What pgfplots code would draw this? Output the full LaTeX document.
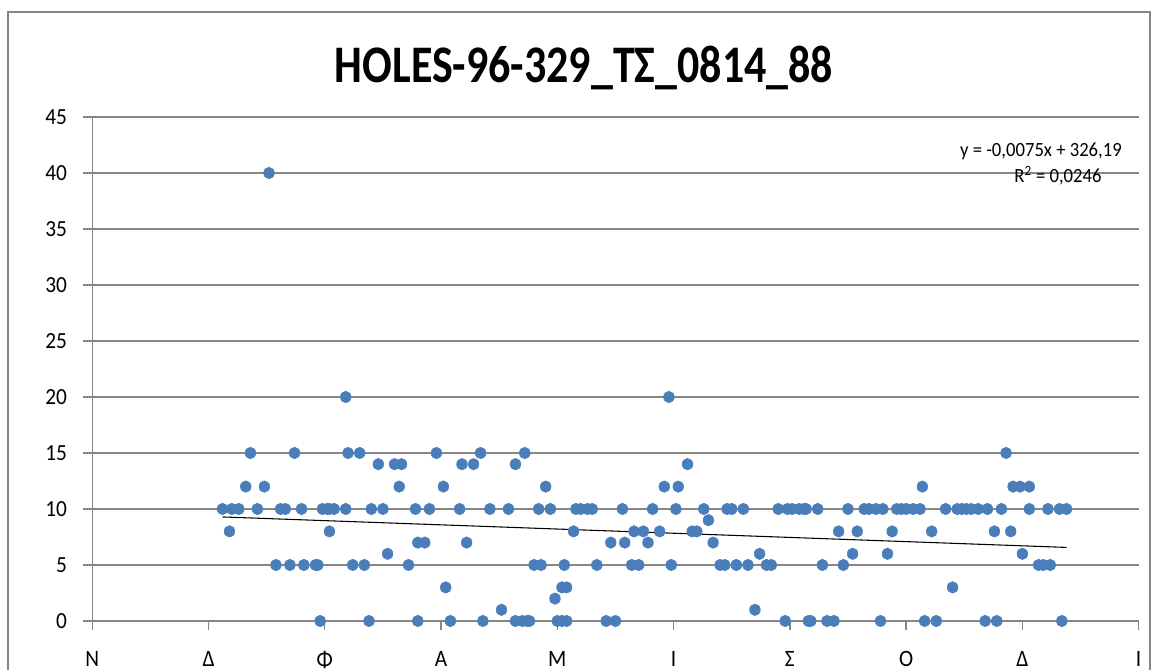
\documentclass[border=0pt]{standalone}
\usepackage{pgfplots}
\pgfplotsset{compat=1.18}
\usepackage{pgfplotstable}
\usepackage{fontspec}
\setmainfont{Carlito}
\definecolor{gridgray}{HTML}{868686}
\definecolor{markblue}{HTML}{4A7EBB}
\newcommand\PX[2]{({(#1-92.3)*0.75pt},{(621-#2)*0.75pt})}

\pgfplotstableread{
day val
56 10
59 8
60 10
63 10
66 12
68 15
71 10
74 12
76 40
79 5
81 10
83 10
85 5
87 15
90 10
91 5
96 5
97 5
98 0
99 10
101 10
102 8
102 10
104 10
109 20
109 10
110 15
112 5
115 15
117 5
119 0
120 10
123 14
125 10
127 6
130 14
132 12
133 14
136 5
139 10
140 7
140 0
143 7
145 10
148 15
151 12
152 3
154 0
158 10
159 14
161 7
164 14
167 15
168 0
171 10
176 1
179 10
182 14
182 0
185 0
186 15
187 0
188 0
190 5
192 10
193 5
195 12
197 10
199 2
200 0
202 3
202 0
203 5
204 3
204 0
207 8
208 10
210 10
213 10
215 10
217 5
221 0
223 7
225 0
228 10
229 7
232 5
233 8
235 5
237 8
239 7
241 10
244 8
246 12
248 20
249 5
251 10
252 12
256 14
258 8
260 8
263 10
265 9
267 7
270 5
272 5
273 10
275 10
277 5
280 10
282 5
285 1
287 6
290 5
292 5
295 10
298 0
299 10
301 10
304 10
306 10
307 10
308 0
309 0
312 10
314 5
316 0
319 0
321 8
323 5
325 10
327 6
329 8
332 10
334 10
337 10
339 0
340 10
342 6
344 8
346 10
348 10
350 10
353 10
356 10
357 12
358 0
361 8
363 0
367 10
370 3
372 10
374 10
376 10
378 10
381 10
384 0
385 10
388 8
389 0
391 10
393 15
395 8
396 12
399 12
400 6
403 12
403 10
407 5
409 5
411 10
412 5
416 10
417 0
419 10
}\holes

\begin{document}
\begin{tikzpicture}
\useasboundingbox \PX{0}{670} rectangle \PX{1157}{0};
\clip \PX{0}{670} rectangle \PX{1157}{0};
\fill[white] \PX{0}{670} rectangle \PX{1157}{0};
% outer chart border
\draw[gridgray, line width=1.6pt] \PX{7.7}{690} -- \PX{7.7}{11.7} -- \PX{1150}{11.7} -- \PX{1150}{690};
\begin{axis}[
  scale only axis,
  width={(1138.6-92.3)*0.75pt},
  height={(621-117)*0.75pt},
  xmin=0, xmax=450,
  ymin=0, ymax=45,
  xtick={0,50,...,450},
  xticklabels={Ν,Δ,Φ,Α,Μ,Ι,Σ,Ο,Δ,Ι},
  ytick={0,5,...,45},
  axis x line*=bottom,
  axis y line*=left,
  axis line style={draw=gridgray, line width=1pt, -},
  tick align=outside,
  major tick length=6.75pt,
  tick style={draw=gridgray, line width=1pt},
  ymajorgrids,
  grid style={draw=gridgray, line width=1pt},
  extra y ticks={10},
  extra y tick labels={},
  extra y tick style={grid style={draw=gridgray, line width=1.7pt}},
  /pgf/number format/assume math mode=true,
  ticklabel style={font=\fontsize{16}{18}\selectfont},
  yticklabel style={anchor=east, inner sep=0pt, xshift=-12pt, yscale=1.08},
  xticklabel style={anchor=north, inner sep=0pt, yshift=-16pt, yscale=1.1},
  clip=false,
]
\addplot[only marks, mark=*, mark size=4pt, mark options={draw=markblue, fill=markblue, yscale=1.08}] table[x=day, y=val] {\holes};
\addplot[black, line width=0.8pt] coordinates {(56,9.29) (419,6.57)};
\end{axis}
\node[font=\bfseries\fontsize{33}{36}\selectfont, yscale=1.2] at \PX{584}{68} {HOLES-96-329\_ΤΣ\_0814\_88};
\node[font=\fontsize{14}{16}\selectfont, anchor=base east, inner sep=0pt, yscale=1.08] at \PX{1122}{157} {y = -0,0075x + 326,19};
\node[font=\fontsize{14}{16}\selectfont, anchor=base, inner sep=0pt, yscale=1.08] at \PX{1058}{183} {R\textsuperscript{2} = 0,0246};
\end{tikzpicture}
\end{document}
